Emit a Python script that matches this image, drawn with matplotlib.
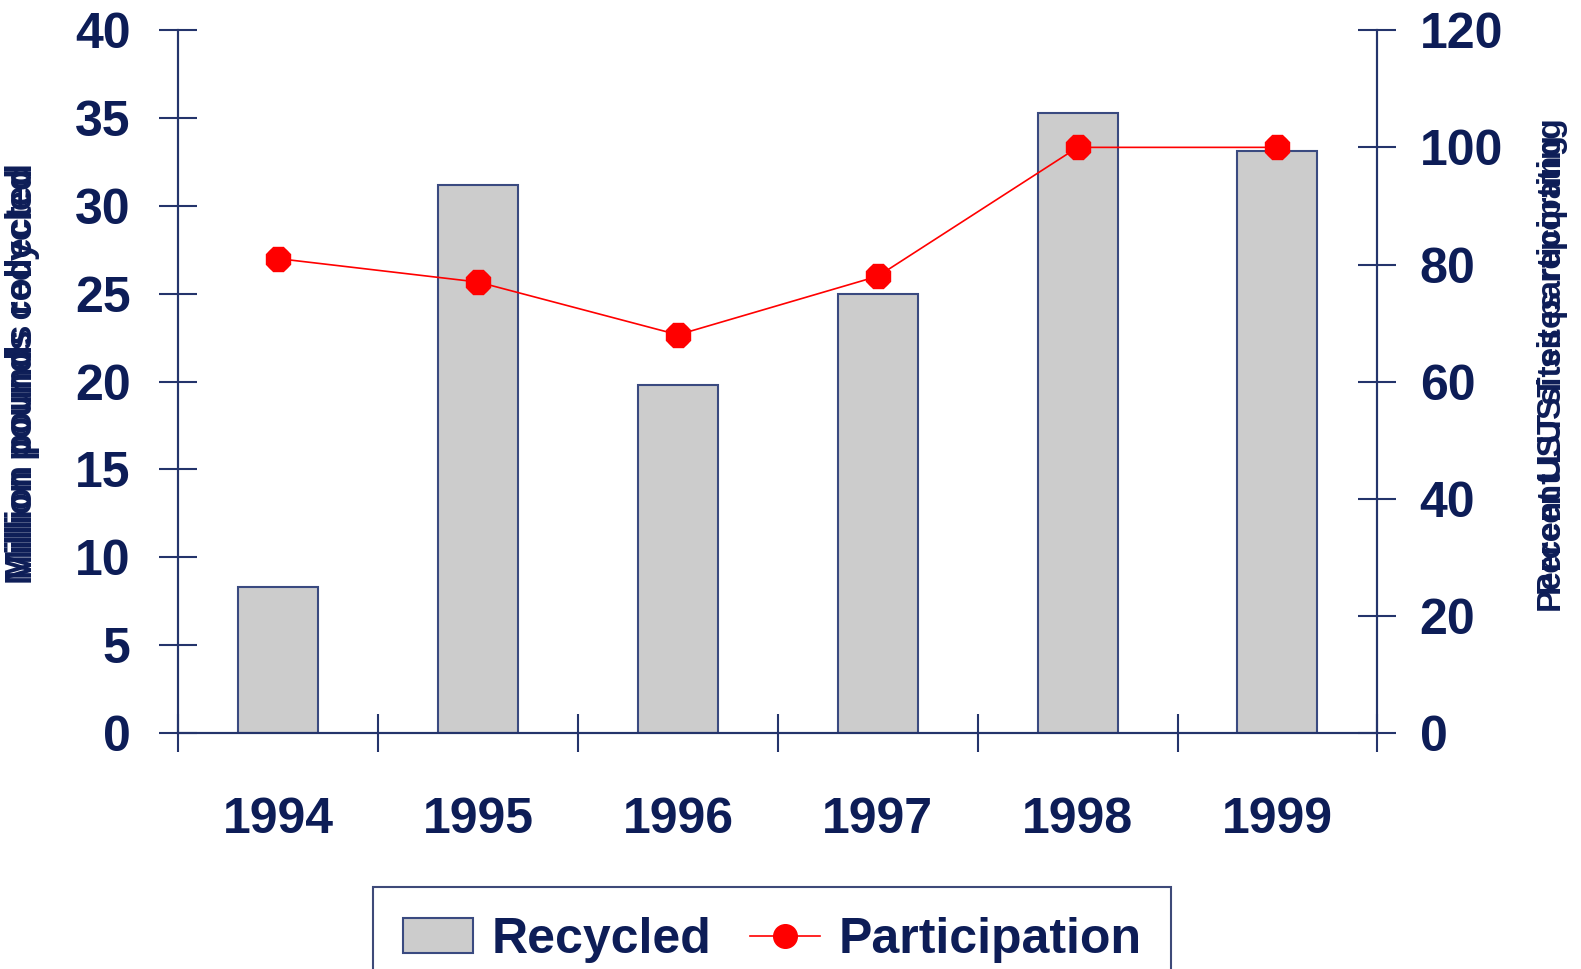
import numpy as np
import matplotlib.pyplot as plt
from matplotlib.ticker import MultipleLocator

# data
years = ['1994', '1995', '1996', '1997', '1998', '1999']
recycled = [8.3, 31.2, 19.8, 25.0, 35.3, 33.1]        # million pounds
participation = [81, 77, 68, 78, 100, 100]           # percent

navy = '#0d1d57'
axis_col = '#24346b'
plt.rcParams['font.family'] = ['Liberation Sans', 'DejaVu Sans']

fig = plt.figure(figsize=(15.81, 9.69), dpi=100)
ax = fig.add_axes([0.1129, 0.2435, 0.7583, 0.7253])
ax2 = ax.twinx()

x = np.arange(len(years))
ax.bar(x, recycled, width=0.4, color='#cccccc', edgecolor='#3a4a80',
       linewidth=1.5, label='Recycled', zorder=2)
line, = ax2.plot(x, participation, color='red', linewidth=1.2, marker='o',
                 markersize=17, markerfacecolor='red', markeredgecolor='red',
                 label='Participation', zorder=3)
# octagon outline around each marker, like the original
ax2.plot(x, participation, linestyle='none', marker='8', markersize=19,
         markerfacecolor='none', markeredgecolor='red', markeredgewidth=1.0,
         zorder=3)

ax.set_xlim(-0.5, len(years) - 0.5)
ax.set_ylim(0, 40)
ax2.set_ylim(0, 120)
ax.yaxis.set_major_locator(MultipleLocator(5))
ax2.yaxis.set_major_locator(MultipleLocator(20))

# category boundaries as ticks, labels at centres
ax.set_xticks(np.arange(-0.5, len(years)), labels=[''] * (len(years) + 1))
ax.set_xticks(x, labels=years, minor=True)
ax.tick_params(axis='x', which='major', direction='inout', length=27,
               width=1.5, color=axis_col)
ax.tick_params(axis='x', which='minor', length=0, pad=46)

ax.tick_params(axis='y', direction='inout', length=27, width=1.5,
               color=axis_col, pad=21)
ax2.tick_params(axis='y', direction='inout', length=27, width=1.5,
                color=axis_col, pad=17)
for a in (ax, ax2):
    for lab in a.get_yticklabels() + a.get_xticklabels(minor=True):
        lab.set_fontsize(36)
        lab.set_fontweight('bold')
        lab.set_color(navy)
    a.spines['top'].set_visible(False)
    for s in ('left', 'right', 'bottom'):
        a.spines[s].set_color(axis_col)
        a.spines[s].set_linewidth(1.5)
ax2.set_zorder(ax.get_zorder() + 1)
ax2.patch.set_visible(False)

# overlapping axis titles, as in the source
for t in ('Million pounds recycled', 'Million pounds collected'):
    fig.text(0.014, 0.615, t, rotation=90, ha='center', va='center',
             fontsize=26, fontweight='bold', color=navy)
for t in ('Percent LUST sites reporting', 'Percent UST sites participating'):
    fig.text(0.982, 0.623, t, rotation=90, ha='center', va='center',
             fontsize=24, fontweight='bold', color=navy)

bars = ax.containers[0]
leg = fig.legend([bars, line], ['Recycled', 'Participation'], loc='upper center',
                 bbox_to_anchor=(0.4885, 0.0843), ncol=2, frameon=True,
                 fancybox=False, edgecolor=navy, handlelength=1.4,
                 handleheight=0.7, handletextpad=0.36, columnspacing=0.78,
                 borderpad=0.6, borderaxespad=0,
                 prop={'size': 36, 'weight': 'bold'})
leg.get_frame().set_linewidth(1.5)
for txt in leg.get_texts():
    txt.set_color(navy)

fig.savefig('out.png', dpi=100)
